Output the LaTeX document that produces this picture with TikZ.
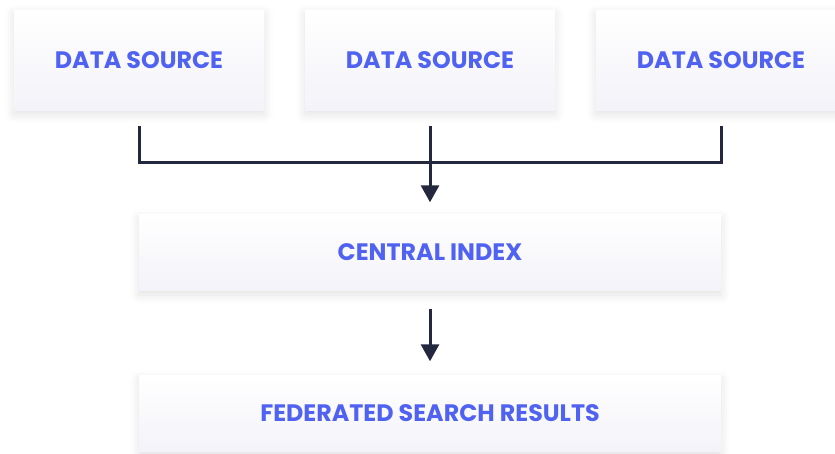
\documentclass[tikz,border=0pt]{standalone}
\usepackage{fontspec}
\setmainfont{Poppins}
\usetikzlibrary{arrows.meta, shadows.blur}
\definecolor{dsblue}{RGB}{80,98,242}
\definecolor{dsnavy}{RGB}{36,40,62}
\definecolor{dsgrey}{RGB}{243,243,249}

\begin{document}
\begin{tikzpicture}[x=1pt,y=-1pt]
 	   \useasboundingbox (0,0) rectangle (835,453);
 	   \tikzset{
 	     card/.style={top color=white, bottom color=dsgrey, minimum height=100pt,
 	       minimum width=250pt, inner sep=0pt, text=dsblue,
 	       font=\fontsize{23.8}{26}\selectfont\bfseries,
 	       blur shadow={shadow xshift=0pt, shadow yshift=-4pt,
 	         shadow blur radius=9pt, shadow opacity=12}},
 	     wide/.style={card, minimum width=582pt, minimum height=76pt},
 	     flow/.style={draw=dsnavy, line width=3pt, -{Triangle[width=18pt,length=17pt]}},
 	     bracket/.style={draw=dsnavy, line width=3pt}
 	   }
 	   % sources
 	   \node [card] (srcleft) at (139,60) {DATA SOURCE};
 	   \node [card] (srcmid) at (430,60) {DATA SOURCE};
 	   \node [card] (srcright) at (721,60) {DATA SOURCE};
 	   % index and results
 	   \node [wide] (index) at (430,252.5) {CENTRAL INDEX};
 	   \node [wide] (results) at (430,413.5) {FEDERATED SEARCH RESULTS};
 	   % connectors
 	   \draw [bracket] ([yshift=-16pt]srcleft.south) -- ++(0,36) -| ([yshift=-16pt]srcright.south);
 	   \draw [flow, shorten <=16pt, shorten >=12pt] (srcmid.south) -- (index.north);
 	   \draw [flow, shorten <=18pt, shorten >=14pt] (index.south) -- (results.north);
\end{tikzpicture}
\end{document}
